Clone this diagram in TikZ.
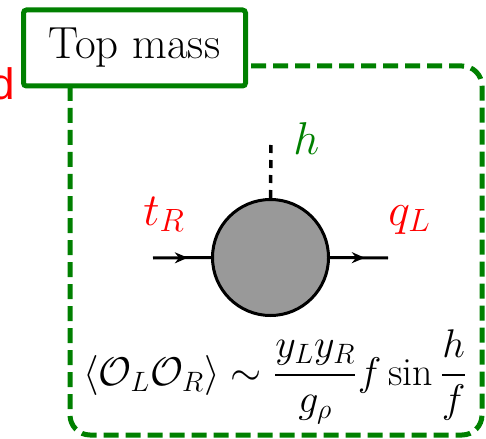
\RequirePackage{fix-cm}
\documentclass[tikz,border=0pt]{standalone}
\usepackage{amsmath,amssymb,amstext}
\usepackage{fontspec}
\usepackage{xcolor}
\usepackage{tikz}
\usetikzlibrary{arrows.meta,decorations.markings}

\newfontfamily\sansA{Liberation Sans}

\definecolor{topgreen}{RGB}{0,128,0}
\definecolor{blobgray}{RGB}{153,153,153}

\tikzset{
  midarrow/.style={postaction={decorate},
    decoration={markings,mark=at position #1 with {\arrow{Stealth[length=6.5pt,width=5.5pt]}}}},
  leg/.style={line width=1.5pt},
  lab/.style={anchor=base west, inner sep=0pt, font=\fontsize{23}{23}\selectfont}
}

\begin{document}
\begin{tikzpicture}[x=0.5pt,y=-0.5pt]
\useasboundingbox (0,0) rectangle (486,438);

%% Frame %%

\draw[topgreen, line width=2.5pt, dash pattern=on 7.5pt off 3.5pt, rounded corners=10pt] (70,66) rectangle (482,435);

\node[draw=topgreen, line width=2.5pt, fill=white, rounded corners=1.5pt, minimum width=111pt, minimum height=38pt, inner sep=0pt, font=\rmfamily\fontsize{22.5}{22.5}\selectfont] (title) at (134.5,48) {Top mass};

\node[red, anchor=base east, inner sep=0pt, font=\sansA\fontsize{22}{22}\selectfont] (cut) at (15,100) {d};


%% Blob %%

\node[circle, draw, line width=1.5pt, fill=blobgray, minimum size=58pt, inner sep=0pt] (blob) at (270.5,257.5) {};

\coordinate (tin) at (153,258);
\coordinate (qout) at (388,258);
\coordinate (htop) at (271,140);

\draw[leg, midarrow=0.6] (tin) -- (blob.west);
\draw[leg, midarrow=0.6] (blob.east) -- (qout);
\draw[line width=1.75pt, dash pattern=on 4pt off 3.5pt] (blob.north) -- (htop);


%% Labels %%

\node[lab, red] (tR) at (143,225) {$t_R$};
\node[lab, red] (qL) at (388,225) {$q_L$};
\node[lab, topgreen] (h) at (293,155) {$h$};

\node[anchor=base, inner sep=0pt, font=\fontsize{20}{20}\selectfont] (corr) at (275.5,385) {$\displaystyle \langle\mathcal{O}_L\mathcal{O}_R\rangle\sim\frac{y_Ly_R}{g_\rho}f\sin\frac{h}{f}$};

\end{tikzpicture}
\end{document}
